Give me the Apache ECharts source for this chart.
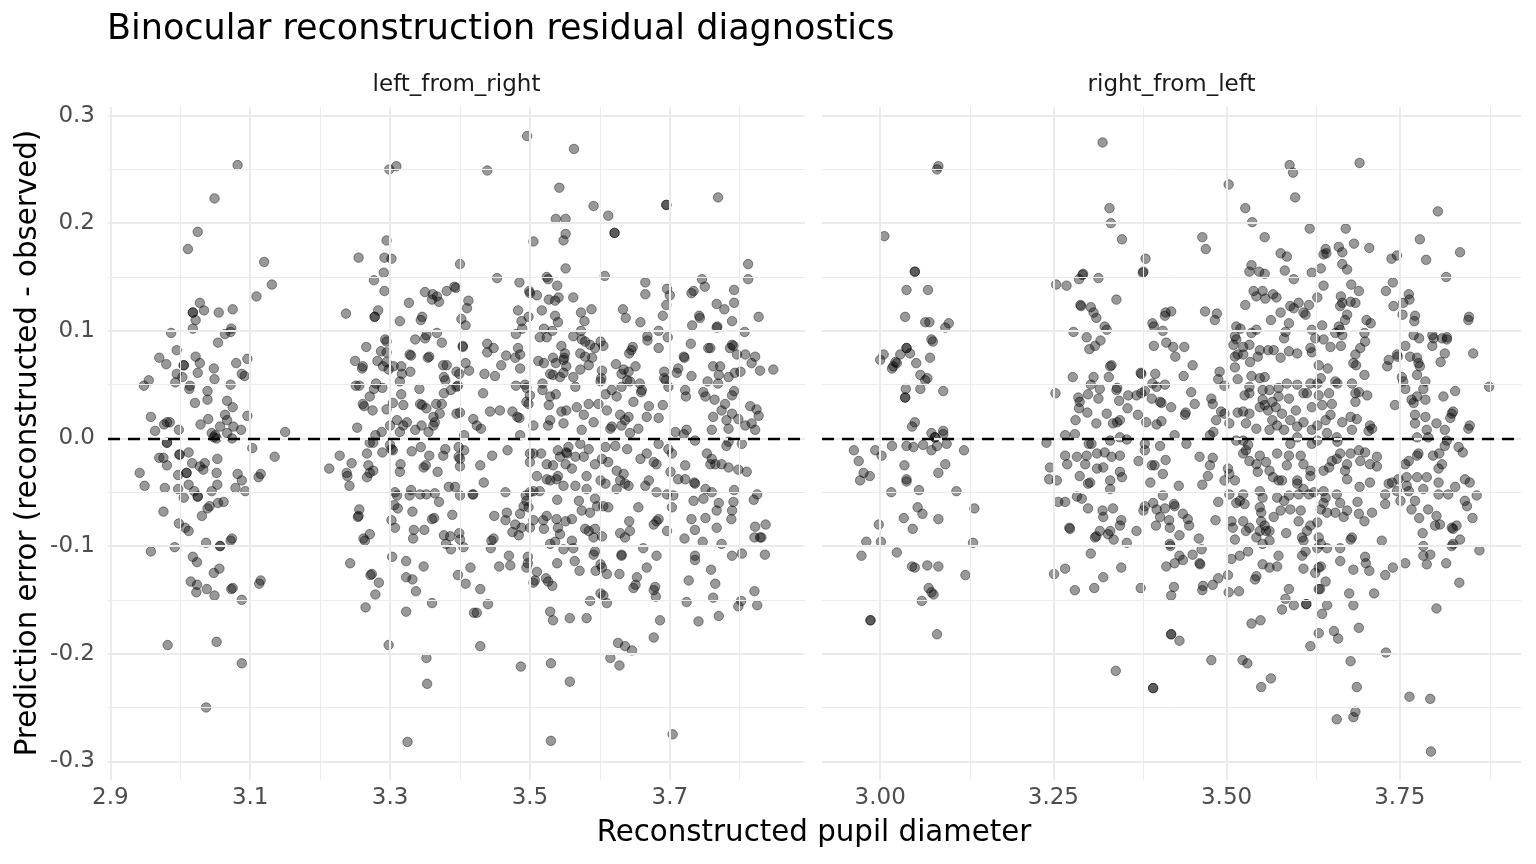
<!DOCTYPE html>
<html>
<head>
<meta charset="utf-8">
<script src="https://cdn.jsdelivr.net/npm/echarts@6/dist/echarts.min.js"></script>
<style>html,body{margin:0;padding:0;background:#fff}#chart{width:1536px;height:864px}</style>
</head>
<body>
<div id="chart"></div>
<script>
const panelNames = ['left_from_right', 'right_from_left'];
const leftXTicks = [2.9, 3.1, 3.3, 3.5, 3.7];
const leftXMinor = [3.0, 3.2, 3.4, 3.6, 3.8];
const rightXTicks = [3.0, 3.25, 3.5, 3.75];
const rightXMinor = [3.125, 3.375, 3.625, 3.875];
const yTicks = [-0.3, -0.2, -0.1, 0.0, 0.1, 0.2, 0.3];
const yMinor = [-0.25, -0.15, -0.05, 0.05, 0.15, 0.25];

const leftFromRight = [
[3.082,0.254],[3.049,0.223],[3.025,0.192],[3.011,0.176],[3.120,0.164],[3.131,0.143],[3.109,0.132],[3.028,0.126],[3.018,0.117],[3.018,0.117],[3.034,0.119],[3.055,0.117],[3.075,0.120],[3.022,0.110],[3.018,0.102],[2.987,0.098],[3.064,0.097],[3.072,0.099],[3.073,0.102],[3.054,0.089],[2.995,0.082],[2.970,0.075],[2.980,0.069],[3.022,0.076],[3.028,0.070],[3.005,0.068],[3.005,0.068],[3.048,0.065],[3.080,0.070],[3.096,0.074],[2.995,0.060],[3.003,0.057],[3.025,0.061],[3.049,0.055],[3.088,0.060],[3.092,0.058],[2.955,0.054],[2.948,0.049],[2.993,0.052],[3.014,0.049],[3.013,0.046],[3.072,0.050],[3.039,0.044],[3.039,0.036],[3.021,0.033],[3.067,0.035],[3.075,0.029],[2.958,0.020],[2.981,0.015],[2.985,0.015],[2.977,0.013],[2.964,0.007],[2.998,0.008],[3.029,0.013],[3.040,0.018],[3.064,0.022],[3.067,0.017],[3.096,0.021],[3.057,0.011],[3.076,0.011],[3.087,0.008],[3.045,0.005],[3.050,0.003],[3.067,0.005],[3.150,0.006],
[3.048,0.001],[3.052,0.000],[3.074,0.000],[2.981,-0.004],[2.981,-0.004],[3.103,-0.009],[3.135,-0.017],[2.970,-0.018],[2.976,-0.018],[2.999,-0.015],[2.999,-0.015],[3.012,-0.013],[3.017,-0.023],[2.981,-0.025],[3.028,-0.026],[3.035,-0.023],[3.033,-0.029],[3.053,-0.019],[2.942,-0.032],[2.949,-0.044],[2.978,-0.046],[2.997,-0.034],[3.009,-0.032],[3.009,-0.032],[2.997,-0.047],[3.012,-0.043],[3.020,-0.049],[3.025,-0.054],[3.025,-0.054],[3.005,-0.055],[3.052,-0.032],[3.053,-0.043],[3.045,-0.049],[3.082,-0.033],[3.088,-0.039],[3.079,-0.046],[3.093,-0.049],[3.112,-0.036],[3.115,-0.033],[3.062,-0.059],[3.054,-0.060],[3.042,-0.063],[3.039,-0.065],[3.031,-0.072],[2.976,-0.068],[2.998,-0.079],[3.007,-0.083],[3.012,-0.086],[3.037,-0.097],[3.057,-0.100],[3.057,-0.100],[3.074,-0.093],[3.072,-0.095],[2.958,-0.105],[2.992,-0.101],[3.018,-0.110],[3.024,-0.115],[3.056,-0.121],[3.048,-0.125],[3.015,-0.133],[3.024,-0.136],[3.023,-0.143],[3.038,-0.140],[3.049,-0.146],[3.073,-0.140],[3.075,-0.139],[3.088,-0.150],[3.113,-0.135],[3.115,-0.132],[2.982,-0.192],[3.052,-0.189],[3.088,-0.209],[3.037,-0.250],
[3.496,0.281],[3.299,0.250],[3.309,0.253],[3.439,0.249],[3.542,0.233],[3.537,0.204],[3.551,0.204],[3.551,0.190],[3.548,0.184],[3.505,0.183],[3.295,0.184],[3.255,0.168],[3.292,0.168],[3.302,0.167],[3.400,0.162],[3.551,0.158],[3.291,0.154],[3.277,0.147],[3.453,0.149],[3.485,0.145],[3.524,0.150],[3.526,0.148],[3.539,0.142],[3.292,0.137],[3.350,0.136],[3.361,0.134],[3.367,0.132],[3.360,0.129],[3.370,0.127],[3.381,0.137],[3.392,0.141],[3.394,0.140],[3.499,0.137],[3.500,0.135],[3.510,0.133],[3.527,0.129],[3.536,0.128],[3.541,0.131],[3.412,0.128],[3.410,0.121],[3.327,0.126],[3.237,0.116],[3.283,0.119],[3.278,0.113],[3.278,0.113],[3.483,0.119],[3.517,0.119],[3.346,0.113],[3.344,0.110],[3.314,0.109],[3.402,0.111],[3.408,0.105],[3.498,0.113],[3.488,0.109],[3.489,0.102],[3.536,0.114],[3.540,0.108],[3.520,0.102],[3.532,0.100],[3.524,0.094],[3.514,0.094],[3.480,0.097],[3.367,0.098],[3.352,0.096],[3.350,0.093],[3.374,0.089],[3.336,0.092],[3.293,0.092],[3.295,0.090],[3.266,0.085],[3.287,0.081],[3.295,0.080],[3.328,0.078],[3.330,0.077],[3.404,0.086],[3.404,0.085],[3.439,0.088],[3.448,0.084],[3.439,0.080],[3.483,0.084],[3.486,0.078],[3.466,0.077],[3.479,0.075],[3.545,0.086],[3.550,0.079],[3.548,0.073],[3.250,0.072],[3.261,0.067],[3.260,0.065],[3.282,0.072],[3.290,0.067],[3.298,0.064],[3.305,0.067],[3.295,0.071],[3.316,0.067],[3.317,0.060],[3.314,0.053],[3.329,0.062],[3.354,0.075],[3.356,0.076],[3.381,0.068],[3.376,0.068],[3.377,0.057],[3.379,0.054],[3.408,0.070],[3.413,0.063],[3.399,0.060],[3.395,0.062],[3.435,0.060],[3.450,0.058],[3.459,0.068],[3.486,0.065],[3.512,0.072],[3.520,0.070],[3.533,0.075],[3.537,0.070],[3.549,0.075],[3.552,0.067],[3.548,0.061],[3.529,0.060],[3.533,0.059],[3.543,0.057],[3.251,0.049],[3.256,0.049],[3.280,0.051],[3.289,0.047],[3.277,0.046],[3.271,0.039],[3.261,0.032],[3.263,0.030],[3.275,0.026],[3.316,0.041],[3.304,0.033],[3.295,0.027],[3.319,0.031],[3.342,0.046],[3.343,0.032],[3.346,0.031],[3.352,0.028],[3.366,0.032],[3.374,0.032],[3.371,0.023],[3.362,0.020],[3.377,0.042],[3.387,0.045],[3.395,0.048],[3.397,0.049],[3.400,0.024],[3.395,0.023],[3.433,0.042],[3.443,0.025],[3.457,0.026],[3.475,0.025],[3.482,0.020],[3.485,0.019],[3.480,0.049],[3.493,0.050],[3.495,0.047],[3.500,0.040],[3.495,0.034],[3.498,0.032],[3.518,0.051],[3.518,0.045],[3.529,0.039],[3.537,0.041],[3.527,0.031],[3.545,0.025],[3.552,0.026],[3.419,0.018],[3.430,0.009],[3.424,0.012],[3.253,0.010],[3.310,0.017],[3.324,0.015],[3.319,0.012],[3.300,0.012],[3.288,0.006],[3.279,0.003],[3.314,0.006],[3.336,0.008],[3.345,0.012],[3.355,0.006],[3.362,0.012],[3.364,0.015],[3.406,0.003],[3.486,0.003],[3.505,0.012],[3.529,0.017],[3.526,0.012],[3.548,0.014],
[3.271,-0.004],[3.276,-0.004],[3.300,-0.006],[3.302,-0.010],[3.228,-0.016],[3.213,-0.028],[3.245,-0.023],[3.267,-0.014],[3.289,-0.013],[3.304,-0.011],[3.238,-0.032],[3.239,-0.035],[3.242,-0.044],[3.269,-0.025],[3.271,-0.032],[3.267,-0.036],[3.276,-0.030],[3.315,-0.024],[3.314,-0.031],[3.331,-0.012],[3.344,-0.008],[3.356,-0.016],[3.348,-0.027],[3.351,-0.025],[3.368,-0.031],[3.376,-0.016],[3.379,-0.010],[3.398,-0.008],[3.398,-0.017],[3.400,-0.019],[3.400,-0.026],[3.406,-0.011],[3.429,-0.025],[3.446,-0.016],[3.468,-0.011],[3.500,-0.014],[3.505,-0.014],[3.516,-0.014],[3.500,-0.022],[3.524,-0.024],[3.533,-0.025],[3.552,-0.013],[3.543,-0.017],[3.540,-0.011],[3.510,-0.035],[3.524,-0.038],[3.538,-0.038],[3.529,-0.039],[3.548,-0.044],[3.540,-0.035],[3.434,-0.041],[3.384,-0.045],[3.393,-0.045],[3.307,-0.050],[3.310,-0.053],[3.330,-0.048],[3.328,-0.053],[3.343,-0.052],[3.352,-0.052],[3.364,-0.051],[3.370,-0.059],[3.400,-0.053],[3.418,-0.052],[3.419,-0.052],[3.465,-0.050],[3.494,-0.053],[3.500,-0.050],[3.505,-0.049],[3.514,-0.049],[3.495,-0.058],[3.498,-0.064],[3.491,-0.063],[3.539,-0.057],[3.256,-0.066],[3.254,-0.073],[3.255,-0.072],[3.306,-0.062],[3.311,-0.065],[3.332,-0.068],[3.302,-0.076],[3.307,-0.083],[3.360,-0.075],[3.363,-0.074],[3.389,-0.071],[3.334,-0.085],[3.349,-0.085],[3.333,-0.093],[3.377,-0.090],[3.386,-0.091],[3.399,-0.088],[3.400,-0.094],[3.380,-0.098],[3.387,-0.103],[3.405,-0.101],[3.448,-0.093],[3.445,-0.095],[3.444,-0.102],[3.449,-0.072],[3.467,-0.069],[3.465,-0.076],[3.486,-0.070],[3.479,-0.080],[3.475,-0.087],[3.484,-0.090],[3.488,-0.083],[3.500,-0.083],[3.505,-0.076],[3.519,-0.076],[3.520,-0.084],[3.524,-0.072],[3.538,-0.075],[3.540,-0.083],[3.543,-0.089],[3.529,-0.098],[3.536,-0.096],[3.548,-0.103],[3.262,-0.093],[3.264,-0.095],[3.271,-0.089],[3.243,-0.116],[3.303,-0.110],[3.323,-0.114],[3.348,-0.119],[3.274,-0.126],[3.272,-0.127],[3.284,-0.134],[3.279,-0.145],[3.265,-0.157],[3.323,-0.129],[3.332,-0.131],[3.337,-0.142],[3.360,-0.153],[3.323,-0.161],[3.415,-0.120],[3.397,-0.127],[3.408,-0.135],[3.429,-0.140],[3.440,-0.154],[3.420,-0.162],[3.424,-0.162],[3.456,-0.119],[3.470,-0.109],[3.472,-0.118],[3.497,-0.110],[3.497,-0.116],[3.495,-0.120],[3.510,-0.124],[3.505,-0.134],[3.507,-0.132],[3.523,-0.130],[3.526,-0.133],[3.532,-0.137],[3.539,-0.116],[3.529,-0.161],[3.533,-0.169],[3.298,-0.192],[3.429,-0.193],[3.352,-0.204],[3.353,-0.228],[3.487,-0.212],[3.530,-0.209],[3.325,-0.282],[3.530,-0.281],[3.557,-0.226],[3.557,-0.167],
[3.563,0.269],[3.591,0.216],[3.612,0.207],[3.695,0.217],[3.695,0.217],[3.769,0.224],[3.621,0.191],[3.621,0.191],[3.607,0.151],[3.812,0.162],[3.812,0.148],[3.665,0.145],[3.665,0.134],[3.562,0.131],[3.696,0.139],[3.700,0.133],[3.695,0.124],[3.690,0.114],[3.746,0.148],[3.750,0.141],[3.734,0.137],[3.731,0.135],[3.792,0.138],[3.792,0.126],[3.778,0.120],[3.767,0.125],[3.573,0.117],[3.588,0.120],[3.578,0.109],[3.633,0.120],[3.637,0.112],[3.658,0.108],[3.742,0.114],[3.743,0.112],[3.732,0.105],[3.768,0.104],[3.767,0.103],[3.789,0.109],[3.827,0.113],[3.807,0.099],[3.562,0.095],[3.573,0.100],[3.574,0.092],[3.579,0.090],[3.586,0.087],[3.601,0.090],[3.605,0.086],[3.593,0.084],[3.572,0.079],[3.579,0.076],[3.589,0.075],[3.584,0.068],[3.572,0.064],[3.562,0.057],[3.565,0.048],[3.668,0.095],[3.668,0.091],[3.684,0.100],[3.697,0.094],[3.684,0.084],[3.647,0.085],[3.645,0.082],[3.642,0.079],[3.623,0.069],[3.634,0.064],[3.631,0.060],[3.641,0.062],[3.651,0.067],[3.643,0.053],[3.639,0.054],[3.603,0.063],[3.602,0.056],[3.601,0.053],[3.657,0.051],[3.660,0.045],[3.659,0.043],[3.692,0.062],[3.692,0.056],[3.694,0.054],[3.698,0.048],[3.710,0.061],[3.712,0.065],[3.721,0.075],[3.720,0.076],[3.730,0.088],[3.731,0.058],[3.755,0.084],[3.758,0.084],[3.762,0.067],[3.772,0.067],[3.770,0.059],[3.769,0.051],[3.754,0.053],[3.786,0.084],[3.789,0.087],[3.791,0.086],[3.796,0.078],[3.808,0.078],[3.822,0.076],[3.817,0.070],[3.829,0.063],[3.848,0.064],[3.784,0.057],[3.793,0.061],[3.801,0.062],[3.608,0.041],[3.617,0.045],[3.624,0.039],[3.631,0.048],[3.584,0.032],[3.598,0.032],[3.610,0.026],[3.567,0.029],[3.648,0.034],[3.670,0.030],[3.690,0.031],[3.667,0.020],[3.684,0.019],[3.722,0.045],[3.723,0.039],[3.748,0.043],[3.751,0.039],[3.764,0.036],[3.792,0.044],[3.789,0.040],[3.779,0.032],[3.774,0.026],[3.815,0.030],[3.824,0.027],[3.827,0.021],[3.789,0.023],[3.798,0.018],[3.762,0.020],[3.781,0.017],[3.577,0.022],[3.591,0.015],[3.574,0.008],[3.615,0.009],[3.617,0.011],[3.629,0.022],[3.636,0.017],[3.641,0.020],[3.643,0.005],[3.655,0.009],[3.631,0.012],[3.708,0.006],[3.724,0.008],[3.720,0.004],[3.760,0.008],[3.784,0.009],[3.808,0.012],[3.817,0.014],[3.822,0.008],
[3.684,-0.005],[3.698,-0.010],[3.703,-0.014],[3.736,-0.002],[3.784,-0.003],[3.781,-0.007],[3.803,-0.005],[3.555,-0.008],[3.572,-0.005],[3.584,-0.010],[3.553,-0.014],[3.565,-0.017],[3.577,-0.017],[3.551,-0.024],[3.560,-0.028],[3.593,-0.024],[3.603,-0.019],[3.612,-0.022],[3.608,-0.008],[3.622,-0.007],[3.639,-0.010],[3.658,-0.019],[3.667,-0.014],[3.677,-0.022],[3.681,-0.024],[3.624,-0.030],[3.634,-0.033],[3.629,-0.039],[3.624,-0.047],[3.641,-0.044],[3.636,-0.042],[3.601,-0.039],[3.608,-0.042],[3.581,-0.035],[3.581,-0.047],[3.565,-0.044],[3.665,-0.044],[3.670,-0.039],[3.701,-0.031],[3.712,-0.038],[3.722,-0.038],[3.722,-0.025],[3.735,-0.041],[3.736,-0.042],[3.753,-0.014],[3.760,-0.019],[3.758,-0.024],[3.765,-0.024],[3.774,-0.024],[3.784,-0.027],[3.798,-0.029],[3.810,-0.031],[3.751,-0.047],[3.760,-0.050],[3.748,-0.056],[3.734,-0.058],[3.681,-0.050],[3.696,-0.052],[3.705,-0.053],[3.703,-0.064],[3.792,-0.048],[3.791,-0.059],[3.789,-0.067],[3.788,-0.075],[3.770,-0.060],[3.767,-0.067],[3.825,-0.052],[3.820,-0.057],[3.570,-0.058],[3.593,-0.056],[3.596,-0.063],[3.605,-0.063],[3.612,-0.064],[3.574,-0.067],[3.586,-0.069],[3.560,-0.075],[3.551,-0.077],[3.655,-0.064],[3.684,-0.075],[3.681,-0.077],[3.677,-0.080],[3.696,-0.086],[3.642,-0.077],[3.643,-0.086],[3.629,-0.088],[3.636,-0.092],[3.579,-0.084],[3.584,-0.086],[3.593,-0.084],[3.603,-0.091],[3.591,-0.092],[3.560,-0.095],[3.562,-0.102],[3.731,-0.075],[3.751,-0.074],[3.736,-0.085],[3.721,-0.093],[3.747,-0.096],[3.767,-0.083],[3.774,-0.098],[3.822,-0.082],[3.837,-0.080],[3.821,-0.092],[3.829,-0.092],[3.831,-0.092],[3.662,-0.102],[3.681,-0.109],[3.631,-0.108],[3.631,-0.109],[3.736,-0.109],[3.736,-0.113],[3.789,-0.109],[3.803,-0.107],[3.836,-0.108],[3.564,-0.114],[3.571,-0.123],[3.593,-0.105],[3.591,-0.108],[3.601,-0.117],[3.603,-0.120],[3.610,-0.126],[3.594,-0.123],[3.628,-0.126],[3.667,-0.120],[3.653,-0.129],[3.651,-0.136],[3.648,-0.139],[3.679,-0.138],[3.677,-0.141],[3.680,-0.147],[3.727,-0.132],[3.759,-0.122],[3.765,-0.135],[3.762,-0.148],[3.724,-0.152],[3.741,-0.170],[3.770,-0.165],[3.686,-0.169],[3.677,-0.185],[3.821,-0.142],[3.825,-0.155],[3.802,-0.151],[3.798,-0.156],[3.586,-0.151],[3.601,-0.144],[3.605,-0.146],[3.610,-0.153],[3.581,-0.167],[3.626,-0.190],[3.636,-0.193],[3.646,-0.197],[3.615,-0.204],[3.628,-0.211],[3.704,-0.275]
];

const rightFromLeft = [
[3.082,0.250],[3.084,0.253],[3.006,0.188],[3.050,0.155],[3.050,0.155],[3.038,0.138],[3.069,0.138],[3.036,0.113],[3.065,0.108],[3.071,0.108],[3.094,0.103],[3.099,0.107],[3.074,0.092],[3.076,0.090],[3.038,0.084],[3.038,0.084],[3.005,0.078],[3.000,0.073],[3.029,0.078],[3.022,0.071],[3.017,0.065],[3.019,0.067],[3.024,0.070],[3.043,0.079],[3.052,0.070],[3.072,0.075],[3.058,0.059],[3.065,0.054],[3.068,0.056],[3.058,0.046],[3.037,0.046],[3.036,0.038],[3.036,0.038],[3.091,0.044],[3.050,0.015],[3.046,0.011],[3.074,0.005],[3.091,0.007],[3.091,0.004],[3.079,0.001],[3.079,0.001],[2.962,-0.011],[2.969,-0.021],[2.993,-0.011],[3.002,-0.016],[3.017,-0.007],[3.038,-0.007],[3.048,-0.008],[3.062,-0.006],[3.074,-0.011],[3.082,-0.007],[3.096,-0.005],[3.121,-0.011],[3.094,-0.024],[3.084,-0.032],[3.035,-0.025],[2.976,-0.032],[2.971,-0.039],[2.985,-0.035],[3.038,-0.038],[3.038,-0.040],[3.016,-0.050],[3.056,-0.048],[3.110,-0.049],[3.136,-0.065],[3.054,-0.064],[3.061,-0.070],[3.034,-0.074],[3.047,-0.084],[3.084,-0.075],[2.998,-0.080],[2.980,-0.096],[3.001,-0.096],[2.973,-0.109],[3.024,-0.106],[3.134,-0.097],[3.046,-0.119],[3.050,-0.120],[3.068,-0.118],[3.084,-0.119],[3.123,-0.127],[3.070,-0.139],[3.074,-0.143],[3.077,-0.145],[3.060,-0.151],[2.986,-0.169],[2.986,-0.169],[3.082,-0.182],
[3.321,0.275],[3.503,0.236],[3.331,0.214],[3.333,0.200],[3.349,0.185],[3.527,0.214],[3.537,0.201],[3.555,0.187],[3.465,0.187],[3.470,0.176],[3.383,0.167],[3.379,0.154],[3.380,0.155],[3.293,0.153],[3.292,0.152],[3.287,0.148],[3.315,0.149],[3.254,0.143],[3.269,0.142],[3.341,0.129],[3.289,0.124],[3.290,0.123],[3.304,0.122],[3.308,0.117],[3.312,0.112],[3.536,0.161],[3.533,0.155],[3.547,0.155],[3.555,0.153],[3.539,0.137],[3.552,0.137],[3.543,0.132],[3.556,0.130],[3.567,0.134],[3.527,0.124],[3.469,0.118],[3.486,0.116],[3.483,0.110],[3.412,0.117],[3.420,0.118],[3.411,0.114],[3.393,0.107],[3.395,0.104],[3.408,0.100],[3.324,0.104],[3.327,0.101],[3.279,0.099],[3.298,0.094],[3.318,0.091],[3.310,0.086],[3.302,0.083],[3.395,0.086],[3.413,0.089],[3.423,0.085],[3.426,0.076],[3.439,0.085],[3.451,0.068],[3.564,0.110],[3.514,0.104],[3.520,0.102],[3.512,0.095],[3.514,0.092],[3.510,0.087],[3.524,0.085],[3.536,0.098],[3.543,0.101],[3.533,0.087],[3.548,0.082],[3.560,0.082],[3.512,0.076],[3.516,0.078],[3.524,0.078],[3.545,0.076],[3.534,0.071],[3.512,0.066],[3.278,0.057],[3.332,0.067],[3.334,0.068],[3.330,0.057],[3.308,0.057],[3.304,0.050],[3.317,0.046],[3.342,0.047],[3.341,0.045],[3.376,0.061],[3.377,0.060],[3.397,0.060],[3.393,0.051],[3.399,0.048],[3.411,0.050],[3.438,0.058],[3.449,0.043],[3.454,0.032],[3.490,0.062],[3.488,0.055],[3.497,0.049],[3.516,0.055],[3.536,0.058],[3.548,0.056],[3.555,0.057],[3.533,0.048],[3.552,0.045],[3.253,0.042],[3.286,0.038],[3.288,0.034],[3.300,0.041],[3.315,0.037],[3.287,0.028],[3.299,0.024],[3.345,0.035],[3.358,0.040],[3.357,0.028],[3.370,0.040],[3.377,0.042],[3.382,0.044],[3.392,0.037],[3.404,0.034],[3.406,0.033],[3.420,0.029],[3.327,0.023],[3.312,0.014],[3.282,0.017],[3.336,0.014],[3.342,0.015],[3.346,0.017],[3.372,0.022],[3.384,0.015],[3.399,0.013],[3.406,0.016],[3.440,0.022],[3.441,0.024],[3.478,0.037],[3.480,0.032],[3.492,0.025],[3.497,0.023],[3.485,0.017],[3.481,0.006],[3.504,0.014],[3.516,0.024],[3.524,0.025],[3.533,0.023],[3.528,0.014],[3.543,0.009],[3.548,0.029],[3.555,0.031],[3.560,0.026],[3.566,0.034],[3.566,0.017],[3.562,0.008],[3.526,0.040],[3.533,0.042],[3.562,0.045],[3.552,0.036],
[3.240,-0.004],[3.267,0.003],[3.281,0.004],[3.301,-0.005],[3.305,-0.005],[3.332,-0.002],[3.346,0.001],[3.356,-0.001],[3.382,-0.005],[3.382,-0.011],[3.404,-0.007],[3.425,0.003],[3.442,-0.005],[3.476,0.003],[3.267,-0.016],[3.270,-0.024],[3.284,-0.017],[3.296,-0.024],[3.298,-0.016],[3.313,-0.014],[3.324,-0.013],[3.334,-0.017],[3.322,-0.027],[3.313,-0.028],[3.346,-0.016],[3.346,-0.031],[3.349,-0.036],[3.332,-0.039],[3.332,-0.047],[3.303,-0.041],[3.300,-0.042],[3.288,-0.035],[3.255,-0.039],[3.245,-0.027],[3.244,-0.038],[3.373,-0.021],[3.392,-0.025],[3.396,-0.025],[3.412,-0.020],[3.408,-0.033],[3.390,-0.041],[3.431,-0.044],[3.461,-0.017],[3.480,-0.018],[3.476,-0.025],[3.473,-0.035],[3.465,-0.043],[3.502,-0.028],[3.504,-0.033],[3.512,-0.039],[3.497,-0.039],[3.514,-0.002],[3.524,-0.002],[3.531,-0.006],[3.528,-0.011],[3.524,-0.014],[3.533,-0.021],[3.548,-0.016],[3.543,-0.024],[3.545,-0.031],[3.557,-0.022],[3.562,-0.030],[3.567,-0.036],[3.284,-0.054],[3.291,-0.056],[3.257,-0.059],[3.267,-0.059],[3.300,-0.065],[3.321,-0.067],[3.322,-0.073],[3.336,-0.065],[3.348,-0.076],[3.346,-0.081],[3.332,-0.086],[3.329,-0.089],[3.317,-0.086],[3.312,-0.091],[3.310,-0.092],[3.337,-0.094],[3.356,-0.097],[3.370,-0.086],[3.273,-0.083],[3.274,-0.084],[3.380,-0.067],[3.382,-0.063],[3.394,-0.060],[3.399,-0.066],[3.408,-0.053],[3.411,-0.065],[3.404,-0.073],[3.398,-0.081],[3.417,-0.076],[3.418,-0.083],[3.424,-0.061],[3.425,-0.063],[3.437,-0.070],[3.444,-0.075],[3.446,-0.081],[3.432,-0.090],[3.460,-0.093],[3.464,-0.103],[3.488,-0.059],[3.484,-0.076],[3.418,-0.098],[3.419,-0.100],[3.304,-0.107],[3.251,-0.126],[3.267,-0.121],[3.281,-0.141],[3.309,-0.139],[3.322,-0.129],[3.348,-0.120],[3.376,-0.139],[3.413,-0.119],[3.425,-0.116],[3.437,-0.113],[3.432,-0.109],[3.451,-0.108],[3.461,-0.116],[3.462,-0.117],[3.424,-0.138],[3.420,-0.146],[3.466,-0.137],[3.465,-0.141],[3.480,-0.136],[3.488,-0.130],[3.502,-0.127],[3.503,-0.143],[3.518,-0.142],[3.507,-0.112],[3.519,-0.109],[3.531,-0.105],[3.543,-0.128],[3.541,-0.131],[3.552,-0.117],[3.562,-0.120],[3.504,-0.052],[3.519,-0.058],[3.524,-0.052],[3.507,-0.077],[3.509,-0.083],[3.512,-0.094],[3.524,-0.077],[3.528,-0.086],[3.533,-0.083],[3.548,-0.049],[3.552,-0.055],[3.548,-0.064],[3.550,-0.077],[3.557,-0.086],[3.562,-0.095],[3.552,-0.098],[3.543,-0.092],[3.514,-0.060],[3.526,-0.061],[3.550,-0.069],[3.555,-0.081],[3.562,-0.086],[3.548,-0.086],[3.420,-0.182],[3.420,-0.182],[3.432,-0.188],[3.536,-0.172],[3.549,-0.169],[3.478,-0.206],[3.523,-0.206],[3.530,-0.209],[3.340,-0.216],[3.394,-0.232],[3.394,-0.232],[3.550,-0.231],[3.564,-0.223],
[3.591,0.254],[3.596,0.247],[3.599,0.224],[3.692,0.256],[3.805,0.211],[3.620,0.195],[3.672,0.195],[3.684,0.181],[3.706,0.177],[3.662,0.178],[3.667,0.173],[3.643,0.176],[3.640,0.171],[3.644,0.172],[3.578,0.172],[3.587,0.169],[3.584,0.156],[3.597,0.148],[3.636,0.158],[3.623,0.154],[3.667,0.162],[3.674,0.157],[3.640,0.142],[3.631,0.131],[3.619,0.124],[3.611,0.117],[3.614,0.115],[3.680,0.143],[3.691,0.137],[3.665,0.132],[3.667,0.126],[3.664,0.123],[3.679,0.127],[3.686,0.126],[3.572,0.131],[3.592,0.123],[3.597,0.121],[3.604,0.126],[3.578,0.117],[3.590,0.107],[3.674,0.115],[3.671,0.110],[3.662,0.104],[3.664,0.101],[3.657,0.098],[3.667,0.096],[3.638,0.105],[3.623,0.101],[3.628,0.093],[3.640,0.092],[3.650,0.085],[3.702,0.110],[3.708,0.107],[3.699,0.098],[3.700,0.090],[3.693,0.084],[3.686,0.078],[3.683,0.070],[3.687,0.068],[3.585,0.099],[3.583,0.093],[3.568,0.082],[3.578,0.075],[3.590,0.081],[3.602,0.079],[3.621,0.084],[3.623,0.080],[3.633,0.068],[3.646,0.065],[3.665,0.086],[3.730,0.137],[3.740,0.145],[3.738,0.167],[3.746,0.170],[3.779,0.185],[3.788,0.166],[3.837,0.173],[3.817,0.150],[3.763,0.134],[3.764,0.129],[3.755,0.126],[3.741,0.123],[3.754,0.115],[3.772,0.114],[3.771,0.109],[3.850,0.113],[3.849,0.110],[3.770,0.096],[3.778,0.093],[3.797,0.096],[3.799,0.093],[3.797,0.086],[3.811,0.093],[3.818,0.094],[3.818,0.092],[3.856,0.079],[3.758,0.086],[3.746,0.078],[3.747,0.076],[3.734,0.073],[3.732,0.067],[3.765,0.076],[3.775,0.075],[3.777,0.070],[3.779,0.067],[3.775,0.059],[3.815,0.079],[3.809,0.071],[3.753,0.057],[3.755,0.053],[3.758,0.046],[3.787,0.053],[3.784,0.046],[3.775,0.039],[3.830,0.044],[3.813,0.039],[3.879,0.048],[3.743,0.031],[3.767,0.036],[3.787,0.036],[3.770,0.033],[3.772,0.022],[3.772,0.014],[3.787,0.020],[3.789,0.008],[3.803,0.014],[3.815,0.008],[3.825,0.023],[3.823,0.019],[3.827,0.025],[3.849,0.009],[3.851,0.012],[3.699,0.059],[3.681,0.051],[3.660,0.051],[3.657,0.053],[3.636,0.056],[3.631,0.051],[3.621,0.051],[3.616,0.042],[3.611,0.042],[3.602,0.050],[3.587,0.051],[3.575,0.047],[3.648,0.042],[3.633,0.040],[3.623,0.029],[3.638,0.031],[3.652,0.032],[3.650,0.022],[3.643,0.017],[3.631,0.012],[3.600,0.026],[3.590,0.037],[3.575,0.039],[3.571,0.029],[3.580,0.023],[3.592,0.017],[3.686,0.042],[3.691,0.043],[3.703,0.040],[3.686,0.034],[3.679,0.020],[3.688,0.018],[3.667,0.015],[3.707,0.012],[3.710,0.009],[3.681,0.008],[3.611,0.015],[3.602,0.011],[3.583,0.008],[3.573,0.012],[3.623,0.008],[3.645,0.005],[3.659,0.001],
[3.592,-0.005],[3.602,0.001],[3.623,-0.005],[3.631,-0.002],[3.660,-0.003],[3.705,0.007],[3.775,0.001],[3.791,0.001],[3.573,-0.014],[3.590,-0.016],[3.607,-0.016],[3.611,-0.024],[3.587,-0.025],[3.575,-0.039],[3.580,-0.039],[3.602,-0.039],[3.621,-0.030],[3.621,-0.035],[3.640,-0.030],[3.648,-0.027],[3.652,-0.021],[3.659,-0.019],[3.664,-0.014],[3.679,-0.014],[3.691,-0.011],[3.700,-0.013],[3.693,-0.021],[3.707,-0.024],[3.717,-0.026],[3.717,-0.017],[3.674,-0.024],[3.671,-0.030],[3.674,-0.038],[3.602,-0.042],[3.611,-0.047],[3.604,-0.052],[3.619,-0.052],[3.626,-0.050],[3.640,-0.049],[3.643,-0.055],[3.640,-0.060],[3.659,-0.052],[3.664,-0.060],[3.674,-0.067],[3.669,-0.073],[3.657,-0.069],[3.645,-0.069],[3.636,-0.066],[3.631,-0.078],[3.621,-0.081],[3.616,-0.086],[3.573,-0.055],[3.583,-0.058],[3.590,-0.053],[3.592,-0.066],[3.578,-0.067],[3.568,-0.073],[3.607,-0.067],[3.604,-0.077],[3.586,-0.088],[3.609,-0.092],[3.611,-0.095],[3.633,-0.092],[3.636,-0.098],[3.645,-0.102],[3.631,-0.102],[3.614,-0.105],[3.609,-0.109],[3.575,-0.109],[3.573,-0.119],[3.611,-0.121],[3.628,-0.125],[3.636,-0.119],[3.633,-0.120],[3.643,-0.133],[3.633,-0.140],[3.635,-0.140],[3.590,-0.140],[3.585,-0.149],[3.597,-0.155],[3.580,-0.159],[3.615,-0.154],[3.615,-0.154],[3.645,-0.155],[3.638,-0.163],[3.679,-0.094],[3.681,-0.092],[3.664,-0.102],[3.664,-0.114],[3.683,-0.122],[3.700,-0.110],[3.701,-0.116],[3.706,-0.123],[3.677,-0.144],[3.683,-0.155],[3.713,-0.144],[3.691,-0.176],[3.633,-0.181],[3.655,-0.179],[3.661,-0.186],[3.621,-0.193],[3.679,-0.207],[3.688,-0.231],[3.686,-0.254],[3.683,-0.259],[3.659,-0.261],[3.730,-0.199],[3.692,-0.045],[3.707,-0.041],[3.689,-0.059],[3.691,-0.070],[3.710,-0.069],[3.699,-0.077],[3.724,-0.095],[3.729,-0.127],[3.740,-0.120],[3.758,-0.116],[3.729,-0.061],[3.729,-0.052],[3.734,-0.042],[3.739,-0.041],[3.748,-0.038],[3.746,-0.049],[3.751,-0.058],[3.760,-0.036],[3.760,-0.044],[3.763,-0.049],[3.775,-0.036],[3.758,-0.024],[3.763,-0.021],[3.775,-0.016],[3.777,-0.014],[3.767,-0.066],[3.772,-0.058],[3.778,-0.074],[3.789,-0.036],[3.784,-0.047],[3.791,-0.066],[3.803,-0.072],[3.801,-0.081],[3.808,-0.080],[3.806,-0.052],[3.820,-0.052],[3.806,-0.041],[3.830,-0.045],[3.844,-0.038],[3.851,-0.041],[3.861,-0.053],[3.844,-0.058],[3.847,-0.063],[3.855,-0.074],[3.798,-0.016],[3.807,-0.014],[3.811,-0.024],[3.806,-0.028],[3.815,-0.007],[3.818,-0.002],[3.835,-0.008],[3.841,-0.013],[3.825,-0.083],[3.827,-0.084],[3.832,-0.081],[3.837,-0.094],[3.825,-0.100],[3.827,-0.098],[3.783,-0.088],[3.784,-0.100],[3.784,-0.109],[3.794,-0.108],[3.789,-0.117],[3.817,-0.116],[3.865,-0.104],[3.836,-0.134],[3.803,-0.158],[3.764,-0.240],[3.794,-0.242],[3.795,-0.291]
];

const FONT = 'DejaVu Sans';
const GRID_COLOR = '#ebebeb';

function gridLines(xMajor, xMinor) {
  const d = [];
  xMinor.forEach(v => d.push({xAxis: v, lineStyle: {color: GRID_COLOR, width: 1, type: 'solid'}}));
  yMinor.forEach(v => d.push({yAxis: v, lineStyle: {color: GRID_COLOR, width: 1, type: 'solid'}}));
  xMajor.forEach(v => d.push({xAxis: v, lineStyle: {color: GRID_COLOR, width: 2, type: 'solid'}}));
  yTicks.forEach(v => d.push({yAxis: v, lineStyle: {color: GRID_COLOR, width: 2, type: 'solid'}}));
  return d;
}

function gridSeries(idx, xMajor, xMinor) {
  return {
    type: 'line', xAxisIndex: idx, yAxisIndex: idx, data: [], z: 1, silent: true,
    markLine: {silent: true, symbol: 'none', animation: false, label: {show: false},
      emphasis: {disabled: true}, data: gridLines(xMajor, xMinor)}
  };
}

function pointSeries(idx, pts) {
  return {
    type: 'scatter', name: panelNames[idx], xAxisIndex: idx, yAxisIndex: idx, data: pts, z: 2,
    symbol: 'circle', symbolSize: 9.5, silent: true,
    itemStyle: {color: 'rgba(0,0,0,0.4)', borderColor: 'rgba(0,0,0,0.4)', borderWidth: 1, opacity: 1},
    emphasis: {disabled: true}
  };
}

function zeroSeries(idx) {
  return {
    type: 'line', xAxisIndex: idx, yAxisIndex: idx, data: [], z: 3, silent: true,
    markLine: {silent: true, symbol: 'none', animation: false, label: {show: false},
      emphasis: {disabled: true},
      data: [{yAxis: 0, lineStyle: {color: '#000', width: 2.4, type: [12, 8]}}]}
  };
}

const axisLabelStyle = {color: '#4d4d4d', fontSize: 23, fontFamily: FONT};

const option = {
  animation: false,
  backgroundColor: '#ffffff',
  grid: [
    {left: 108, right: 731, top: 107, bottom: 84},
    {left: 822, right: 15, top: 107, bottom: 84}
  ],
  xAxis: [
    {type: 'value', gridIndex: 0, min: 2.8967, max: 3.8933,
     axisLine: {show: false}, axisTick: {show: false}, splitLine: {show: false},
     axisLabel: Object.assign({margin: 7, customValues: leftXTicks, formatter: v => v.toFixed(1)}, axisLabelStyle)},
    {type: 'value', gridIndex: 1, min: 2.916, max: 3.925,
     axisLine: {show: false}, axisTick: {show: false}, splitLine: {show: false},
     axisLabel: Object.assign({margin: 7, customValues: rightXTicks, formatter: v => v.toFixed(2)}, axisLabelStyle)}
  ],
  yAxis: [
    {type: 'value', gridIndex: 0, min: -0.3174, max: 0.308,
     axisLine: {show: false}, axisTick: {show: false}, splitLine: {show: false},
     axisLabel: Object.assign({margin: 13, customValues: yTicks, formatter: v => v.toFixed(1)}, axisLabelStyle)},
    {type: 'value', gridIndex: 1, min: -0.3174, max: 0.308,
     axisLine: {show: false}, axisTick: {show: false}, splitLine: {show: false},
     axisLabel: {show: false}}
  ],
  series: [
    gridSeries(0, leftXTicks, leftXMinor),
    gridSeries(1, rightXTicks, rightXMinor),
    pointSeries(0, leftFromRight),
    pointSeries(1, rightFromLeft),
    zeroSeries(0),
    zeroSeries(1)
  ],
  graphic: [
    {type: 'text', x: 107, y: 30, silent: true,
     style: {text: 'Binocular reconstruction residual diagnostics', fontSize: 35, fontFamily: FONT, fill: '#000', align: 'left', verticalAlign: 'middle'}},
    {type: 'text', x: 456.5, y: 85, silent: true,
     style: {text: panelNames[0], fontSize: 23, fontFamily: FONT, fill: '#1a1a1a', align: 'center', verticalAlign: 'middle'}},
    {type: 'text', x: 1171.5, y: 85, silent: true,
     style: {text: panelNames[1], fontSize: 23, fontFamily: FONT, fill: '#1a1a1a', align: 'center', verticalAlign: 'middle'}},
    {type: 'text', x: 814, y: 833, silent: true,
     style: {text: 'Reconstructed pupil diameter', fontSize: 29.3, fontFamily: FONT, fill: '#000', align: 'center', verticalAlign: 'middle'}},
    {type: 'text', x: 28, y: 443, rotation: Math.PI / 2, silent: true,
     style: {text: 'Prediction error (reconstructed - observed)', fontSize: 29.3, fontFamily: FONT, fill: '#000', align: 'center', verticalAlign: 'middle'}}
  ]
};

const chart = echarts.init(document.getElementById('chart'), null, {renderer: 'canvas', width: 1536, height: 864});
chart.setOption(option);
</script>
</body>
</html>
